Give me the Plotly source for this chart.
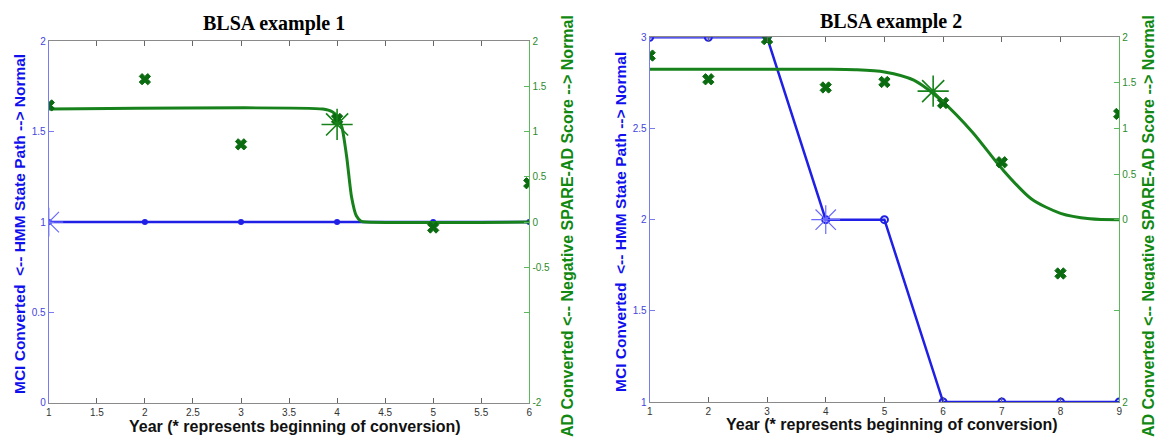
import plotly.graph_objects as go

# ---------------- data ----------------
# Example 1
years1 = [1, 2, 3, 4, 5, 6]
hmm1 = [1, 1, 1, 1, 1, 1]
spare1 = [1.29, 1.58, 0.86, 1.14, -0.06, 0.43]
fit1_x = [1, 3.85, 3.95, 4.0, 4.05, 4.1, 4.15, 4.2, 4.25, 4.3, 6]
fit1_y = [1.25, 1.25, 1.22, 1.17, 1.05, 0.72, 0.28, 0.07, 0.01, 0, 0]
hmm1_conv_x, hmm1_conv_y = [1], [1]
spare1_conv_x, spare1_conv_y = [4.0], [1.08]

# Example 2
years2 = [1, 2, 3, 4, 5, 6, 7, 8, 9]
hmm2 = [3, 3, 3, 2, 2, 1, 1, 1, 1]
spare2 = [1.80, 1.54, 1.98, 1.45, 1.51, 1.28, 0.63, -0.59, 1.16]
fit2_x = [1, 4, 4.5, 5, 5.5, 6, 6.5, 7, 7.5, 8, 8.5, 9]
fit2_y = [1.65, 1.65, 1.645, 1.62, 1.53, 1.29, 0.96, 0.56, 0.23, 0.07, 0.01, 0]
hmm2_conv_x, hmm2_conv_y = [4], [2]
spare2_conv_x, spare2_conv_y = [5.83], [1.41]

titles = ["BLSA example 1", "BLSA example 2"]
xtitle = "Year (* represents beginning of conversion)"
ltitle = "MCI Converted  <-- HMM State Path --> Normal"
rtitle = "AD Converted <-- Negative SPARE-AD Score --> Normal"

# ---------------- style ----------------
# page body has an 8px margin; figure drawn 8px in from the window edge
OFF = 8
W, H = 1155, 436
BLUE = "#1f1fe6"
BLUE_AX = "#7b7bf0"
STAR_BLUE = "#6a6aff"
GREEN = "#17821b"
GREEN_AX = "#5cb85c"
DKGREEN = "#0b6b10"


def px(x):
    return (x - OFF) / W


def py(y):
    return 1 - (y - OFF) / H


fig = go.Figure()

# panel 1 traces
fig.add_trace(go.Scatter(x=years1, y=hmm1, xaxis="x", yaxis="y", mode="lines+markers",
                         line=dict(color=BLUE, width=2.5),
                         marker=dict(symbol="circle", size=6, color=BLUE), showlegend=False))
fig.add_trace(go.Scatter(x=fit1_x, y=fit1_y, xaxis="x", yaxis="y2", mode="lines",
                         line=dict(color=GREEN, width=3, shape="spline", smoothing=0.6), showlegend=False))
fig.add_trace(go.Scatter(x=years1, y=spare1, xaxis="x", yaxis="y2", mode="markers",
                         marker=dict(symbol="x", size=10, color=DKGREEN,
                                     line=dict(color=DKGREEN, width=1)), showlegend=False))
fig.add_trace(go.Scatter(x=hmm1_conv_x, y=hmm1_conv_y, xaxis="x", yaxis="y", mode="markers",
                         marker=dict(symbol="asterisk-open", size=24, color=STAR_BLUE,
                                     line=dict(color=STAR_BLUE, width=1.2)), showlegend=False))
fig.add_trace(go.Scatter(x=spare1_conv_x, y=spare1_conv_y, xaxis="x", yaxis="y2", mode="markers",
                         marker=dict(symbol="asterisk-open", size=26, color=GREEN,
                                     line=dict(color=GREEN, width=1.6)), showlegend=False))

# panel 2 traces
fig.add_trace(go.Scatter(x=years2, y=hmm2, xaxis="x2", yaxis="y3", mode="lines+markers",
                         line=dict(color=BLUE, width=2.5),
                         marker=dict(symbol="circle-open", size=7, color=BLUE,
                                     line=dict(color=BLUE, width=2)), showlegend=False))
fig.add_trace(go.Scatter(x=fit2_x, y=fit2_y, xaxis="x2", yaxis="y4", mode="lines",
                         line=dict(color=GREEN, width=3, shape="spline", smoothing=0.8), showlegend=False))
fig.add_trace(go.Scatter(x=years2, y=spare2, xaxis="x2", yaxis="y4", mode="markers",
                         marker=dict(symbol="x", size=10, color=DKGREEN,
                                     line=dict(color=DKGREEN, width=1)), showlegend=False))
fig.add_trace(go.Scatter(x=hmm2_conv_x, y=hmm2_conv_y, xaxis="x2", yaxis="y3", mode="markers",
                         marker=dict(symbol="asterisk-open", size=24, color=STAR_BLUE,
                                     line=dict(color=STAR_BLUE, width=1.2)), showlegend=False))
fig.add_trace(go.Scatter(x=spare2_conv_x, y=spare2_conv_y, xaxis="x2", yaxis="y4", mode="markers",
                         marker=dict(symbol="asterisk-open", size=26, color=GREEN,
                                     line=dict(color=GREEN, width=1.6)), showlegend=False))

tickfont_x = dict(family="Arial", size=10, color="#333333")
tickfont_l = dict(family="Arial", size=10, color="#4444dd")
tickfont_r = dict(family="Arial", size=10, color="#2e8b2e")


def xaxis(dom, rng, dtick, anchor):
    return dict(domain=dom, range=rng, dtick=dtick, tick0=1, anchor=anchor,
                showgrid=False, zeroline=False, showline=True, linecolor="#8a8a8a",
                linewidth=1.2, mirror="ticks", ticks="inside", ticklen=5,
                tickcolor="#666666", tickfont=tickfont_x)


def yleft(dom, rng, vals, anchor):
    return dict(domain=dom, range=rng, tickvals=vals, anchor=anchor,
                showgrid=False, zeroline=False, showline=True, linecolor=BLUE_AX,
                linewidth=1.2, ticks="inside", ticklen=5, tickcolor=BLUE_AX,
                tickfont=tickfont_l)


def yright(overlay, rng, vals, texts, anchor):
    return dict(overlaying=overlay, side="right", range=rng, tickvals=vals, ticktext=texts,
                anchor=anchor, showgrid=False, zeroline=False, showline=True,
                linecolor=GREEN_AX, linewidth=1.2, ticks="inside", ticklen=5,
                tickcolor=GREEN_AX, tickfont=tickfont_r)


d1x = [px(46), px(529)]
d1y = [py(408), py(36)]
d2x = [px(650), px(1122)]
d2y = [py(407), py(32)]

fig.update_layout(
    width=W, height=H,
    margin=dict(l=0, r=0, t=0, b=0),
    paper_bgcolor="white", plot_bgcolor="white",
    xaxis=xaxis(d1x, [1, 6], 0.5, "y"),
    yaxis=yleft(d1y, [0, 2], [0, 0.5, 1, 1.5, 2], "x"),
    yaxis2=yright("y", [-2, 2], [-2, -1, -0.5, 0, 0.5, 1, 1.5, 2],
                  ["-2", "", "-0.5", "0", "0.5", "1", "1.5", "2"], "x"),
    xaxis2=xaxis(d2x, [1, 9], 1, "y3"),
    yaxis3=yleft(d2y, [1, 3], [1, 1.5, 2, 2.5, 3], "x2"),
    yaxis4=yright("y3", [-2, 2], [-2, -1, 0, 0.5, 1, 1.5, 2],
                  ["2", "", "0", "0.5", "1", "1.5", "2"], "x2"),
)

ann = []
title_font = dict(family="Liberation Serif", size=20, color="black")
ann.append(dict(text="<b>%s</b>" % titles[0], x=px(272), y=py(18), xref="paper", yref="paper",
                showarrow=False, font=title_font, xanchor="center", yanchor="middle"))
ann.append(dict(text="<b>%s</b>" % titles[1], x=px(893), y=py(16), xref="paper", yref="paper",
                showarrow=False, font=title_font, xanchor="center", yanchor="middle"))
xfont = dict(family="Arial", size=16, color="#111111")
ann.append(dict(text="<b>%s</b>" % xtitle, x=px(293), y=py(432), xref="paper", yref="paper",
                showarrow=False, font=xfont, xanchor="center", yanchor="middle"))
ann.append(dict(text="<b>%s</b>" % xtitle, x=px(894), y=py(430), xref="paper", yref="paper",
                showarrow=False, font=xfont, xanchor="center", yanchor="middle"))
lfont = dict(family="Arial", size=15.5, color="#1010ee")
rfont = dict(family="Arial", size=16, color="#118811")
ann.append(dict(text="<b>%s</b>" % ltitle, x=px(16), y=py(224), xref="paper", yref="paper",
                showarrow=False, font=lfont, textangle=-90, xanchor="center", yanchor="middle"))
ann.append(dict(text="<b>%s</b>" % rtitle, x=px(567), y=py(226), xref="paper", yref="paper",
                showarrow=False, font=rfont, textangle=-90, xanchor="center", yanchor="middle"))
ann.append(dict(text="<b>%s</b>" % ltitle, x=px(620), y=py(222), xref="paper", yref="paper",
                showarrow=False, font=lfont, textangle=-90, xanchor="center", yanchor="middle"))
ann.append(dict(text="<b>%s</b>" % rtitle, x=px(1151), y=py(226), xref="paper", yref="paper",
                showarrow=False, font=rfont, textangle=-90, xanchor="center", yanchor="middle"))
fig.update_layout(annotations=ann)

fig.write_html("out.html")
